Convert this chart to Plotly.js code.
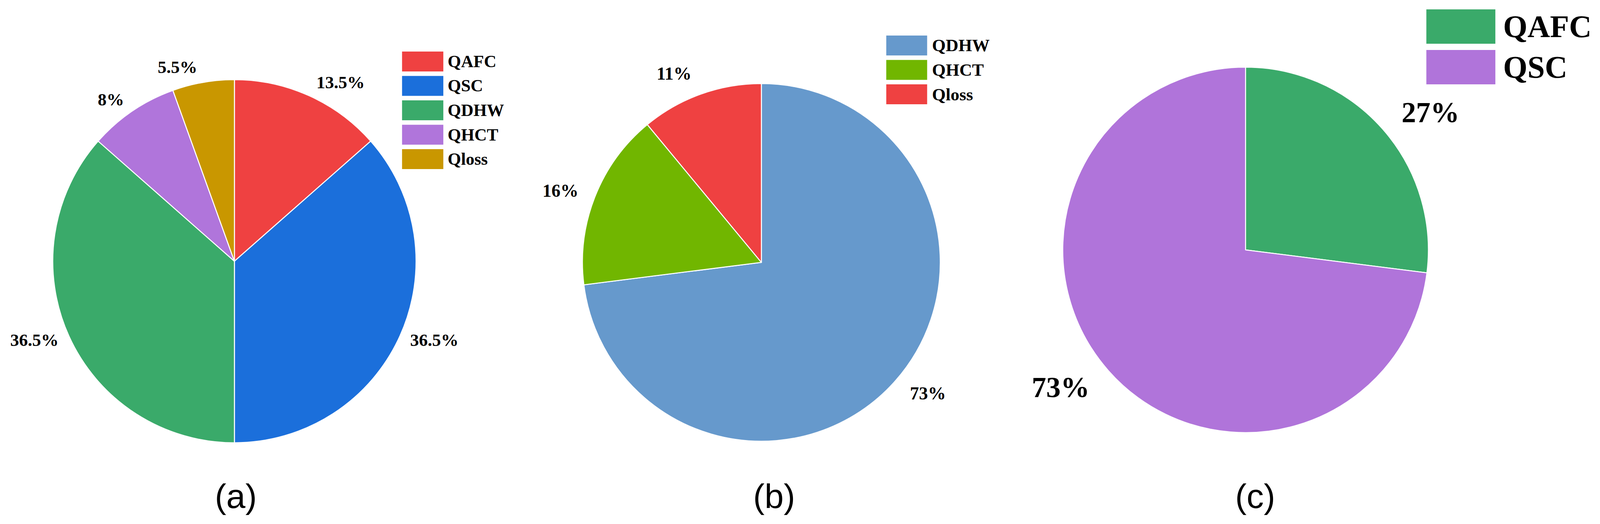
<!DOCTYPE html>
<html>
<head>
<meta charset="utf-8">
<script src="https://cdn.plot.ly/plotly-3.0.1.min.js"></script>
<style>
  html, body { margin: 0; padding: 0; background: #fff; overflow: hidden; }
</style>
</head>
<body>
<div id="chart"></div>
<script>
// (a) energy share
var labelsA = ['QAFC', 'QSC', 'QDHW', 'QHCT', 'Qloss'];
var valuesA = [13.5, 36.5, 36.5, 8, 5.5];
var colorsA = ['#EF4141', '#1B6FDB', '#3AAA6A', '#B075DB', '#C99700'];

// (b)
var labelsB = ['QDHW', 'QHCT', 'Qloss'];
var valuesB = [73, 16, 11];
var colorsB = ['#6699CC', '#71B600', '#EF4141'];

// (c)
var labelsC = ['QAFC', 'QSC'];
var valuesC = [27, 73];
var colorsC = ['#3AAA6A', '#B074DA'];

var panelTags = ['(a)', '(b)', '(c)'];

// positions are measured on a 4266 x 1342 sheet and kept as fractions,
// so the figure still fits when the window is narrower
var REFW = 4266, H = 1342;
var W = Math.min(REFW, window.innerWidth || REFW);
var px = function(x) { return x / REFW; };
var py = function(y) { return 1 - y / H; };

var serif = 'Liberation Serif, Times New Roman, serif';

function dom(cx, cy, r) {
  return {x: [px(cx) - r / W, px(cx) + r / W], y: [py(cy + r), py(cy - r)]};
}

// visible pie, no text
function pieTrace(labels, values, colors, cx, cy, r) {
  return {
    type: 'pie', labels: labels, values: values,
    sort: false, direction: 'clockwise', rotation: 0,
    marker: {colors: colors, line: {color: '#ffffff', width: 2.5}},
    textinfo: 'none', hoverinfo: 'none', showlegend: false,
    domain: dom(cx, cy, r)
  };
}
// a clear, slightly larger pie that only carries the outside % labels,
// pushing them a bit away from the rim as in the original
function labelTrace(labels, values, cx, cy, r, fsize) {
  return {
    type: 'pie', labels: labels, values: values,
    sort: false, direction: 'clockwise', rotation: 0,
    marker: {colors: labels.map(function() { return 'rgba(0,0,0,0)'; }), line: {width: 0}},
    texttemplate: '%{value}%', textposition: 'outside',
    outsidetextfont: {family: serif, size: fsize, color: '#000', weight: 'bold'},
    hoverinfo: 'none', showlegend: false,
    domain: dom(cx, cy, r)
  };
}

var data = [
  labelTrace(labelsA, valuesA, 625, 669, 480, 45),
  labelTrace(labelsB, valuesB, 2030, 672, 490, 46),
  labelTrace(labelsC, valuesC, 3321, 640, 505, 74),
  pieTrace(labelsA, valuesA, colorsA, 625, 669, 465),
  pieTrace(labelsB, valuesB, colorsB, 2030, 672, 458),
  pieTrace(labelsC, valuesC, colorsC, 3321, 640, 468)
];

// hand-made legends (big swatches like the original)
var shapes = [];
var annotations = [];
function addLegend(labels, colors, x0, x1, top, h, pitch, tx, fsize) {
  labels.forEach(function(lab, i) {
    var y0 = top + i * pitch;
    shapes.push({
      type: 'rect', xref: 'paper', yref: 'paper',
      x0: px(x0), x1: px(x1), y0: py(y0 + h), y1: py(y0),
      fillcolor: colors[i], line: {width: 0}
    });
    annotations.push({
      text: lab, xref: 'paper', yref: 'paper',
      x: px(tx), y: py(y0 + h / 2), xanchor: 'left', yanchor: 'middle',
      showarrow: false,
      font: {family: serif, size: fsize, color: '#000', weight: 'bold'}
    });
  });
}
addLegend(labelsA, colorsA, 1072, 1182, 132, 51, 62.5, 1192, 44);
addLegend(labelsB, colorsB, 2363, 2472, 91, 51, 62.5, 2483, 45);
addLegend(labelsC, colorsC, 3803, 3987, 24, 88, 104, 4006, 80);

var tagX = [629, 2064, 3347];
panelTags.forEach(function(t, i) {
  annotations.push({
    text: t, xref: 'paper', yref: 'paper',
    x: px(tagX[i]), y: py(1270), xanchor: 'center', yanchor: 'middle',
    showarrow: false,
    font: {family: 'Liberation Sans, Arial, sans-serif', size: 88, color: '#000'}
  });
});

var layout = {
  width: W, height: H,
  margin: {l: 0, r: 0, t: 0, b: 0},
  paper_bgcolor: '#ffffff',
  plot_bgcolor: '#ffffff',
  shapes: shapes,
  annotations: annotations
};

Plotly.newPlot('chart', data, layout, {staticPlot: true});
</script>
</body>
</html>
